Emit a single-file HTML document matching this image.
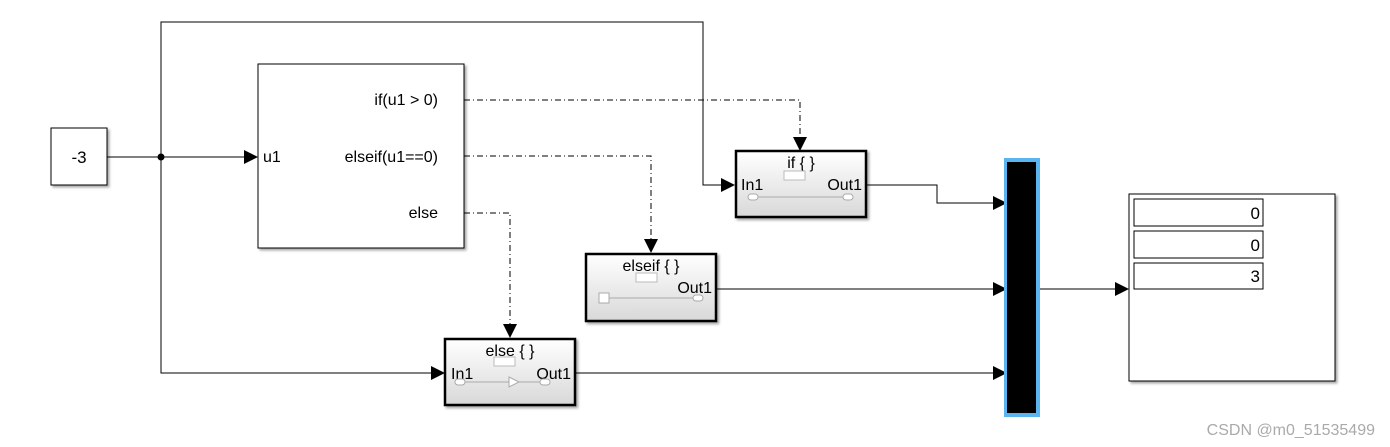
<!DOCTYPE html>
<html><head><meta charset="utf-8">
<style>
html,body{margin:0;padding:0;background:#fff;}
svg{display:block;font-family:"Liberation Sans",Arial,sans-serif;}
</style></head><body>
<svg width="1390" height="447" viewBox="0 0 1390 447" xmlns="http://www.w3.org/2000/svg">
<defs>
<linearGradient id="g" x1="0" y1="0" x2="0" y2="1">
<stop offset="0" stop-color="#ffffff"/><stop offset="1" stop-color="#d8d8d8"/>
</linearGradient>
<filter id="sh" x="-5%" y="-5%" width="115%" height="115%"><feDropShadow dx="2" dy="2" stdDeviation="1.2" flood-color="#000" flood-opacity="0.35"/></filter>
</defs>
<g fill="none" stroke="#000" stroke-width="1">
<path d="M107 157H246"/>
<path d="M161 157V22H703V185H723"/>
<path d="M161 157V373H432"/>
<path d="M867 185H937V203H995"/>
<path d="M717 289H995"/>
<path d="M576 373H995"/>
<path d="M1036 289H1117"/>
<g stroke-dasharray="6,3,1,3">
<path d="M464 100H800V138"/>
<path d="M464 156H651V240"/>
<path d="M464 213H510V325"/>
</g>
</g>
<circle cx="161" cy="157" r="3.5" fill="#000"/>
<g fill="#000">
<path d="M258 157l-14-7v14z"/>
<path d="M735 185l-14-7v14z"/>
<path d="M445 373l-14-7v14z"/>
<path d="M1007 203l-14-7v14z"/>
<path d="M1007 289l-14-7v14z"/>
<path d="M1007 373l-14-7v14z"/>
<path d="M1129 289l-14-7v14z"/>
<path d="M800 151l-7-14h14z"/>
<path d="M651 253l-7-14h14z"/>
<path d="M510 338l-7-14h14z"/>
</g>
<rect x="51" y="128" width="56" height="57" fill="#fff" stroke="#000" filter="url(#sh)"/>
<text x="79" y="163" font-size="17" text-anchor="middle">-3</text>
<rect x="258" y="64" width="206" height="184" fill="#fff" stroke="#000" filter="url(#sh)"/>
<text x="263" y="162" font-size="16">u1</text>
<g font-size="16" text-anchor="end">
<text x="438" y="105">if(u1 &gt; 0)</text>
<text x="438" y="162">elseif(u1==0)</text>
<text x="438" y="218">else</text>
</g>
<g filter="url(#sh)"><rect x="736" y="151" width="130" height="66" fill="url(#g)" stroke="#000" stroke-width="2.5"/></g>
<text x="801" y="168" font-size="16" text-anchor="middle">if { }</text>
<rect x="784" y="171" width="21" height="9" fill="#fff" stroke="#bbb"/>
<text x="741" y="190" font-size="16">In1</text>
<text x="862" y="190" font-size="16" text-anchor="end">Out1</text>
<path d="M754 197H846" stroke="#aaa"/>
<rect x="748" y="194" width="10" height="6" rx="3" fill="#fff" stroke="#aaa"/>
<rect x="843" y="194" width="10" height="6" rx="3" fill="#fff" stroke="#aaa"/>
<g filter="url(#sh)"><rect x="586" y="254" width="130" height="67" fill="url(#g)" stroke="#000" stroke-width="2.5"/></g>
<text x="651" y="271" font-size="16" text-anchor="middle">elseif { }</text>
<rect x="636" y="273" width="21" height="9" fill="#fff" stroke="#bbb"/>
<text x="712" y="293" font-size="16" text-anchor="end">Out1</text>
<path d="M609 298H696" stroke="#aaa"/>
<rect x="599" y="293" width="10" height="10" fill="#fff" stroke="#aaa"/>
<rect x="693" y="295" width="10" height="6" rx="3" fill="#fff" stroke="#aaa"/>
<g filter="url(#sh)"><rect x="445" y="339" width="130" height="66" fill="url(#g)" stroke="#000" stroke-width="2.5"/></g>
<text x="510" y="356" font-size="16" text-anchor="middle">else { }</text>
<rect x="494" y="357" width="21" height="9" fill="#fff" stroke="#bbb"/>
<text x="451" y="379" font-size="16">In1</text>
<text x="571" y="379" font-size="16" text-anchor="end">Out1</text>
<path d="M462 382H550" stroke="#aaa"/>
<path d="M509 377l10 5-10 5z" fill="#fff" stroke="#aaa"/>
<rect x="455" y="379" width="10" height="6" rx="3" fill="#fff" stroke="#aaa"/>
<rect x="540" y="379" width="10" height="6" rx="3" fill="#fff" stroke="#aaa"/>
<rect x="1004" y="158" width="36" height="259" fill="#5ab4f0"/>
<rect x="1007" y="162" width="29" height="251" fill="#000"/>
<rect x="1129" y="194" width="206" height="187" fill="#fff" stroke="#000" filter="url(#sh)"/>
<rect x="1134" y="199" width="129" height="27" fill="#fff" stroke="#000"/>
<rect x="1134" y="231" width="129" height="27" fill="#fff" stroke="#000"/>
<rect x="1134" y="263" width="129" height="26" fill="#fff" stroke="#000"/>
<g font-size="17" text-anchor="end">
<text x="1260" y="219">0</text>
<text x="1260" y="251">0</text>
<text x="1260" y="282">3</text>
</g>
<text x="1375" y="435" font-size="16" fill="#aaa" text-anchor="end">CSDN @m0_51535499</text>
</svg>
</body></html>
